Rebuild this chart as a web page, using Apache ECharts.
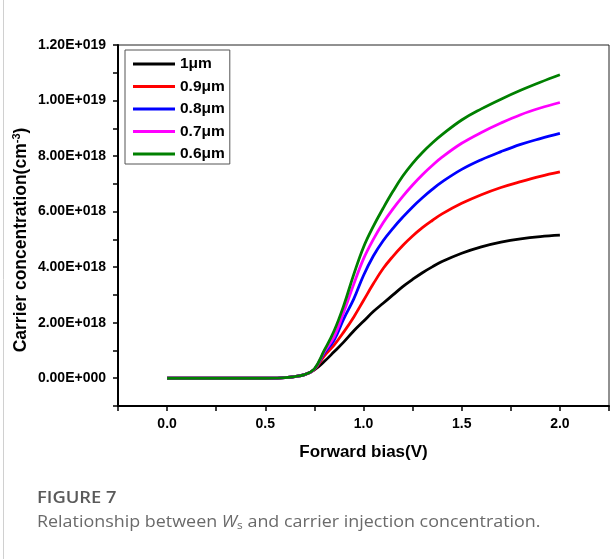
<!DOCTYPE html>
<html><head><meta charset="utf-8">
<script src="https://cdn.jsdelivr.net/npm/echarts@6/dist/echarts.min.js"></script>
<style>html,body{margin:0;padding:0;background:#fff}#c{width:612px;height:559px}</style>
</head><body><div id="c"></div>
<script>
// Forward bias (V)
const bias = [0,0.1,0.2,0.3,0.4,0.5,0.55,0.6,0.65,0.7,0.75,0.8,0.85,0.9,0.95,1.0,1.05,1.1,1.15,1.2,1.25,1.3,1.35,1.4,1.5,1.6,1.7,1.8,1.9,2.0];
// Carrier concentration in units of 1E+018 cm^-3
const c1um  = [0,0,0,0,0,0,0.005,0.02,0.06,0.13,0.3,0.6,0.95,1.31,1.7,2.05,2.4,2.7,3.0,3.3,3.56,3.8,4.01,4.2,4.5,4.73,4.9,5.02,5.1,5.15];
const c09um = [0,0,0,0,0,0,0.005,0.02,0.06,0.13,0.31,0.8,1.19,1.67,2.2,2.8,3.4,3.95,4.39,4.78,5.12,5.42,5.68,5.92,6.3,6.61,6.87,7.08,7.27,7.43];
const c08um = [0,0,0,0,0,0,0.005,0.02,0.06,0.13,0.32,0.9,1.37,2.15,2.85,3.7,4.4,4.95,5.4,5.8,6.17,6.5,6.8,7.07,7.52,7.87,8.16,8.42,8.63,8.82];
const c07um = [0,0,0,0,0,0,0.005,0.02,0.06,0.13,0.33,0.95,1.49,2.39,3.38,4.3,5.0,5.6,6.1,6.55,6.96,7.33,7.66,7.96,8.46,8.85,9.19,9.49,9.73,9.93];
const c06um = [0,0,0,0,0,0,0.005,0.02,0.06,0.13,0.34,1.0,1.7,2.63,3.73,4.72,5.47,6.12,6.73,7.28,7.74,8.13,8.47,8.77,9.3,9.7,10.05,10.37,10.66,10.93];
const seriesNames = ['1\u03bcm','0.9\u03bcm','0.8\u03bcm','0.7\u03bcm','0.6\u03bcm'];
const seriesColors = ['#000000','#ff0000','#0000ff','#ff00ff','#008000'];
const xTickValues = [0,0.5,1,1.5,2];
const xTickLabels = ['0.0','0.5','1.0','1.5','2.0'];
const yTickValues = [0,2,4,6,8,10,12];
const yTickLabels = ['0.00E+000','2.00E+018','4.00E+018','6.00E+018','8.00E+018','1.00E+019','1.20E+019'];

const allSeries = [c1um,c09um,c08um,c07um,c06um];
function findLabel(vals, labels, v){
  for (let i=0;i<vals.length;i++){ if (Math.abs(vals[i]-v) < 1e-6) return labels[i]; }
  return '';
}
const chart = echarts.init(document.getElementById('c'), null, {renderer:'canvas'});
const FONT = '"Liberation Sans", Arial, sans-serif';
const CAP = '"Open Sans", "Noto Sans", sans-serif';
chart.setOption({
  animation:false,
  backgroundColor:'#fff',
  grid:{left:118,right:1,top:45,bottom:153,show:true,borderColor:'#222',borderWidth:1,backgroundColor:'transparent'},
  legend:{
    orient:'vertical', left:125, top:50, align:'left',
    data:seriesNames, icon:'rect',
    itemWidth:42, itemHeight:3, itemGap:6.5,
    padding:[6,5,2,8],
    borderColor:'#555', borderWidth:1,
    textStyle:{fontFamily:FONT, fontWeight:'bold', fontSize:15.5, color:'#000', lineHeight:16}
  },
  xAxis:{
    type:'value', min:-0.25, max:2.25, interval:0.25,
    name:'Forward bias(V)', nameLocation:'middle', nameGap:38,
    nameTextStyle:{fontFamily:FONT, fontWeight:'bold', fontSize:17, color:'#000'},
    axisLine:{show:true, onZero:false, lineStyle:{color:'#000', width:2}},
    axisTick:{show:true, inside:false, length:5, lineStyle:{color:'#000', width:1.5}},
    axisLabel:{margin:11, fontFamily:FONT, fontWeight:'bold', fontSize:14, color:'#000',
      formatter:v=>findLabel(xTickValues,xTickLabels,v)},
    splitLine:{show:false}
  },
  yAxis:{
    type:'value', min:-1, max:12, interval:1,
    axisLine:{show:true, onZero:false, lineStyle:{color:'#000', width:2}},
    axisTick:{show:true, inside:false, length:5, lineStyle:{color:'#000', width:1.5}},
    axisLabel:{margin:12, fontFamily:FONT, fontWeight:'bold', fontSize:14, color:'#000',
      formatter:v=>findLabel(yTickValues,yTickLabels,v)},
    splitLine:{show:false}
  },
  series: allSeries.map((arr,i)=>({
    name:seriesNames[i], type:'line', symbol:'none', smooth:0.4,
    data: bias.map((x,j)=>[x, arr[j]]),
    lineStyle:{color:seriesColors[i], width:2.8},
    itemStyle:{color:seriesColors[i]},
    z: 2+i
  })),
  graphic:[
    {type:'line', shape:{x1:3.5,y1:0,x2:3.5,y2:559}, style:{stroke:'#d0d0d0', lineWidth:1}},
    {type:'text', x:21, y:240, rotation:Math.PI/2,
      style:{text:'{a|Carrier concentration(cm}{s|-3}{a|)}', align:'center', verticalAlign:'middle',
        rich:{a:{fontFamily:FONT, fontWeight:'bold', fontSize:17.5, fill:'#000'},
              s:{fontFamily:FONT, fontWeight:'bold', fontSize:11, fill:'#000', padding:[0,0,9,0]}}}},
    {type:'text', x:37, y:490, scaleX:1.08,
      style:{text:'FIGURE 7', fontFamily:CAP, fontSize:17, fontWeight:600, fill:'#5a5a5a'}},
    {type:'text', x:37, y:513, scaleX:1.085,
      style:{text:'{n|Relationship between }{w|W}{sub|s}{n| and carrier injection concentration.}',
        rich:{n:{fontFamily:CAP, fontSize:16.5, fill:'#6a6a6a'},
              w:{fontFamily:CAP, fontSize:16.5, fontStyle:'italic', fill:'#6a6a6a'},
              sub:{fontFamily:CAP, fontSize:11, fill:'#6a6a6a', padding:[7,0,0,0]}}}}
  ]
});
</script></body></html>
